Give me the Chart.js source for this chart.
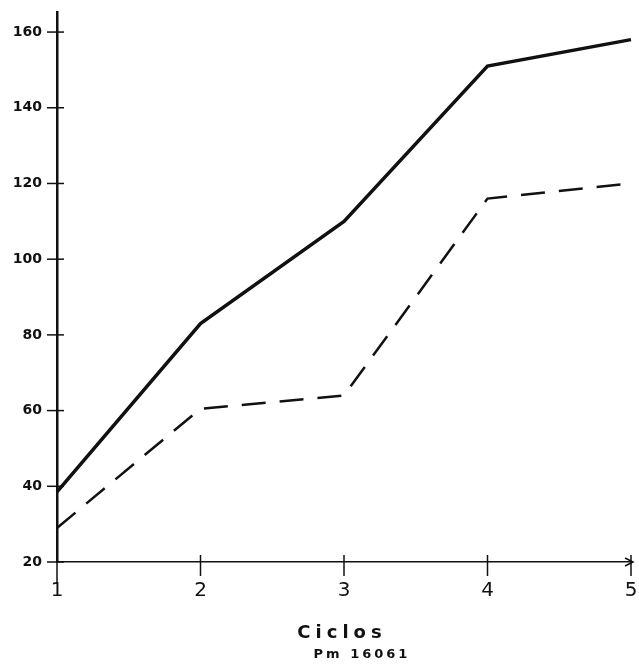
<!DOCTYPE html>
<html>
<head>
<meta charset="utf-8">
<script src="https://cdn.jsdelivr.net/npm/chart.js@4/dist/chart.umd.min.js"></script>
<style>
  html, body { margin: 0; padding: 0; background: #fff; }
  #wrap { width: 639px; height: 666px; }
</style>
</head>
<body>
<div id="wrap"><canvas id="ciclosChart" width="639" height="666"></canvas></div>
<script>
const ciclos = ['1', '2', '3', '4', '5'];
const serieContinua = [38.5, 83, 110, 151, 158];
const serieTrazos = [29, 60.5, 64, 116, 120];
const yTicks = [20, 40, 60, 80, 100, 120, 140, 160];
const tituloEje = 'Ciclos';
const referencia = 'Pm 16061';

const tinta = '#111';

// marcas de escala que cruzan los ejes, flecha del eje x y rótulos inferiores
const ejesPlugin = {
    id: 'ejes',
    afterDraw(chart) {
        const ctx = chart.ctx;
        const area = chart.chartArea;
        const x = chart.scales.x;
        const y = chart.scales.y;
        ctx.save();
        ctx.strokeStyle = tinta;
        ctx.lineWidth = 1.5;
        yTicks.forEach(v => {
            const py = y.getPixelForValue(v);
            ctx.beginPath();
            ctx.moveTo(area.left - 10, py);
            ctx.lineTo(area.left + 7, py);
            ctx.stroke();
        });
        ciclos.forEach((c, i) => {
            const px = x.getPixelForValue(i);
            ctx.beginPath();
            ctx.moveTo(px, area.bottom - 7);
            ctx.lineTo(px, area.bottom + (i === 0 ? 22 : 14));
            ctx.stroke();
        });
        // flecha al final del eje x
        ctx.beginPath();
        ctx.moveTo(area.right - 6, area.bottom - 4);
        ctx.lineTo(area.right + 2, area.bottom);
        ctx.lineTo(area.right - 6, area.bottom + 4);
        ctx.stroke();

        ctx.fillStyle = tinta;
        ctx.textAlign = 'center';
        ctx.textBaseline = 'middle';
        ctx.letterSpacing = '5px';
        ctx.font = 'bold 18px "DejaVu Sans"';
        ctx.fillText(tituloEje, 342, area.bottom + 71);
        ctx.letterSpacing = '3px';
        ctx.font = 'bold 13px "DejaVu Sans"';
        ctx.fillText(referencia, 362, area.bottom + 93);
        ctx.restore();
    }
};

const ctx = document.getElementById('ciclosChart').getContext('2d');
const ciclosChart = new Chart(ctx, {
    type: 'line',
    data: {
        labels: ciclos,
        datasets: [
            {
                data: serieContinua,
                borderColor: tinta,
                borderWidth: 3.5,
                pointRadius: 0,
                tension: 0,
                fill: false
            },
            {
                data: serieTrazos,
                borderColor: tinta,
                borderWidth: 2.5,
                borderDash: [24, 14],
                pointRadius: 0,
                tension: 0,
                fill: false
            }
        ]
    },
    options: {
        responsive: false,
        animation: false,
        layout: { padding: { top: 12, right: 8, left: 0, bottom: 0 } },
        plugins: {
            legend: { display: false },
            tooltip: { enabled: false }
        },
        scales: {
            x: {
                type: 'category',
                offset: false,
                grid: { display: false },
                border: { display: true, color: tinta, width: 1.5 },
                ticks: {
                    color: tinta,
                    padding: 9,
                    maxRotation: 0,
                    font: { family: 'DejaVu Sans', size: 20 }
                },
                afterFit(scale) {
                    scale.height = 104;
                    scale.paddingLeft = 0;
                    scale.paddingRight = 0;
                }
            },
            y: {
                min: 20,
                max: 165.3,
                grid: { display: false },
                border: { display: true, color: tinta, width: 2.5 },
                ticks: {
                    color: tinta,
                    padding: 7,
                    font: { family: 'DejaVu Sans', size: 14, weight: 'bold' }
                },
                afterBuildTicks(scale) {
                    scale.ticks = yTicks.map(v => ({ value: v }));
                },
                afterFit(scale) {
                    scale.width = 57;
                    scale.paddingTop = 0;
                    scale.paddingBottom = 0;
                }
            }
        }
    },
    plugins: [ejesPlugin]
});
</script>
</body>
</html>
